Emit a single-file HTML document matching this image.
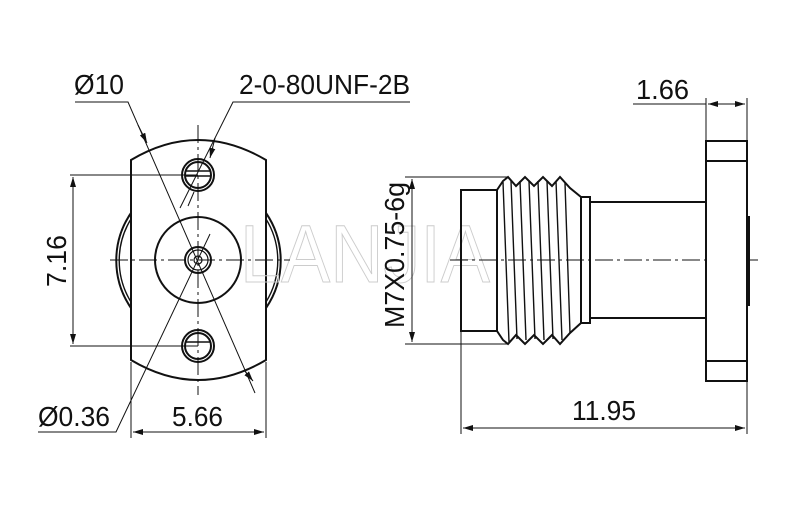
<!DOCTYPE html>
<html><head><meta charset="utf-8"><style>
html,body{margin:0;padding:0;background:#fff;}
svg{display:block;}
text{font-family:"Liberation Sans",sans-serif;font-size:28px;fill:#111;}
</style></head><body>
<svg width="800" height="508" viewBox="0 0 800 508" xmlns="http://www.w3.org/2000/svg">
<defs>
<marker id="a" viewBox="0 0 10 6" refX="10" refY="3" markerWidth="10" markerHeight="6" orient="auto-start-reverse" markerUnits="userSpaceOnUse">
<path d="M0,0 L10,3 L0,6 z" fill="#111"/></marker>
</defs>
<g fill="none" stroke="#111" stroke-width="2">
<path d="M131,213 A84,84 0 0 0 131,308"/>
<path d="M131,219 A79,79 0 0 0 131,302" stroke-width="1.4"/>
<path d="M266,213 A84,84 0 0 1 266,308"/>
<path d="M266,219 A79,79 0 0 1 266,302" stroke-width="1.4"/>
<path d="M131,160 Q198,120 266,160 L266,360 Q198,400 131,360 Z" fill="#fff"/>
<circle cx="198" cy="260" r="43"/>
<circle cx="198" cy="260" r="13"/>
<circle cx="198" cy="260" r="10" stroke-width="1.2"/>
<circle cx="198" cy="260" r="4" stroke-width="1.2"/>
<circle cx="198" cy="175" r="16"/>
<circle cx="198" cy="175" r="13"/>
<path d="M186,171 H210 M186,176 H210" stroke-width="1.4"/>
<circle cx="198" cy="346" r="16"/>
<circle cx="198" cy="346" r="13"/>
<path d="M186,342 H210" stroke-width="1.4"/>
</g>
<text x="240" y="282" font-size="82" stroke="#ccc" stroke-width="1" textLength="250" lengthAdjust="spacingAndGlyphs" style="fill:none;font-size:82px">LANJIA</text>
<g fill="none" stroke="#111" stroke-width="1">
<path d="M198,125 V395 M110,260 H290" stroke-dasharray="18,4,3,4"/>
<path d="M70,175 H198 M70,346 H198"/>
<path d="M73,177 V344" marker-start="url(#a)" marker-end="url(#a)"/>
<path d="M131,362 V438 M266,362 V438"/>
<path d="M133,432 H264" marker-start="url(#a)" marker-end="url(#a)"/>
<path d="M75,102 H128 L255,393"/>
<path d="M138,125 L147,143" marker-end="url(#a)"/>
<path d="M244,370 L253,381" marker-end="url(#a)"/>
<path d="M410,102 H233 L180,208"/>
<path d="M215,138 L210,158" marker-end="url(#a)"/>
<path d="M188,206 L194,192"/>
<path d="M38,432 H116 L210,234"/>
<path d="M450,260 H760" stroke-dasharray="18,4,3,4"/>
</g>
<g fill="none" stroke="#111" stroke-width="2">
<rect x="706" y="141" width="41" height="240" fill="#fff"/>
<path d="M706,161 H747 M706,361 H747"/>
<path d="M747,217 H749 V305 H747"/>
<rect x="590" y="202" width="116" height="116"/>
<rect x="581" y="197" width="9" height="126"/>
<rect x="461" y="190" width="36" height="141"/>
<path d="M497,190 L503,181 L508,177 L516,186 L525,177 L534,186 L543,177 L552,186 L560,177 L570,188 L581,197
         M497,331 L503,340 L508,344 L516,335 L525,344 L534,335 L543,344 L552,335 L560,344 L570,333 L581,323
         M497,190 V331"/>
<path d="M503,182 L509,342 M511,181 L517,339 M520,181 L526,340 M529,181 L535,339 M538,181 L544,340 M547,181 L553,339 M556,181 L562,340 M565,183 L570,333" stroke-width="1.4"/>
</g>
<g fill="none" stroke="#111" stroke-width="1">
<path d="M405,177 H508 M405,344 H508"/>
<path d="M412,179 V342" marker-start="url(#a)" marker-end="url(#a)"/>
<path d="M461,331 V434 M747,381 V434"/>
<path d="M463,428 H745" marker-start="url(#a)" marker-end="url(#a)"/>
<path d="M706,141 V98 M747,141 V98"/>
<path d="M633,104 H706"/>
<path d="M708,104 H745" marker-start="url(#a)" marker-end="url(#a)"/>
</g>
<text x="74" y="94" textLength="50" lengthAdjust="spacingAndGlyphs">Ø10</text>
<text x="239" y="94" textLength="171" lengthAdjust="spacingAndGlyphs">2-0-80UNF-2B</text>
<text x="38" y="426" textLength="72" lengthAdjust="spacingAndGlyphs">Ø0.36</text>
<text x="172" y="426" textLength="51" lengthAdjust="spacingAndGlyphs">5.66</text>
<text x="636" y="99" textLength="53" lengthAdjust="spacingAndGlyphs">1.66</text>
<text x="572" y="420" textLength="64" lengthAdjust="spacingAndGlyphs">11.95</text>
<text transform="translate(66,287) rotate(-90)" textLength="52" lengthAdjust="spacingAndGlyphs">7.16</text>
<text transform="translate(404,328) rotate(-90)" textLength="146" lengthAdjust="spacingAndGlyphs">M7X0.75-6g</text>
</svg>
</body></html>
